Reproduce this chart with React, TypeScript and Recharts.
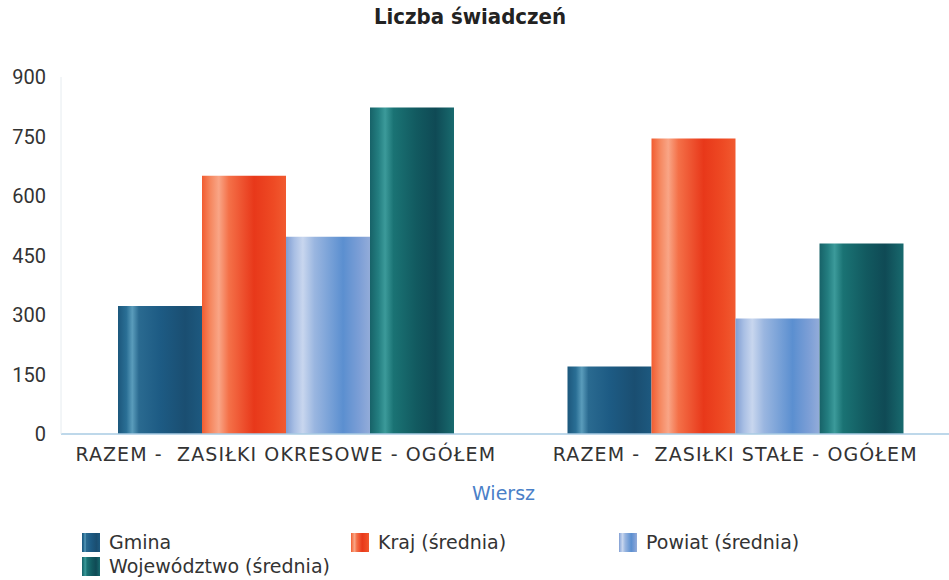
import { BarChart, Bar, XAxis, YAxis } from 'recharts'

const categories = ['RAZEM -\u00A0 ZASIŁKI OKRESOWE - OGÓŁEM', 'RAZEM -\u00A0 ZASIŁKI STAŁE - OGÓŁEM']
const gmina = [323, 170]
const kraj = [651, 745]
const powiat = [497, 291]
const wojewodztwo = [823, 480]
const yTicks = [0, 150, 300, 450, 600, 750, 900]

const seriesNames = ['Gmina', 'Kraj (średnia)', 'Powiat (średnia)', 'Województwo (średnia)']

const rows = categories.map((name, i) => ({
  name,
  gmina: gmina[i],
  kraj: kraj[i],
  powiat: powiat[i],
  wojewodztwo: wojewodztwo[i],
}))

// cylinder-ish shading, left to right
const gradients: Record<string, [number, string][]> = {
  gmina: [[0, '#1c577c'], [0.1, '#2a6f95'], [0.17, '#5a9cbb'], [0.25, '#2a6a90'], [0.5, '#1d5b84'], [0.8, '#1a4e71'], [1, '#1d597f']],
  kraj: [[0, '#f25c30'], [0.1, '#f5875f'], [0.2, '#f9a586'], [0.32, '#f47048'], [0.62, '#e8381a'], [0.85, '#ee4a24'], [1, '#f15a30']],
  powiat: [[0, '#7f9dd2'], [0.1, '#a9bfe4'], [0.2, '#c8d6ee'], [0.34, '#9ab6e0'], [0.68, '#5b8fd0'], [0.88, '#7d9fd6'], [1, '#93acd9']],
  wojewodztwo: [[0, '#176268'], [0.1, '#237e80'], [0.18, '#3c9a9a'], [0.28, '#1a7374'], [0.55, '#125a60'], [0.78, '#0f4a55'], [1, '#186a6e']],
}

const keys = ['gmina', 'kraj', 'powiat', 'wojewodztwo']

function cssGradient(key: string) {
  return 'linear-gradient(to right, ' + gradients[key].map(([o, c]) => `${c} ${o * 100}%`).join(', ') + ')'
}

const legendPos = [
  { left: 82, top: 533 },
  { left: 351, top: 533 },
  { left: 619, top: 533 },
  { left: 82, top: 557 },
]

export default function App() {
  return (
    <div style={{ position: 'absolute', left: 0, top: 0, width: 949, height: 580, overflow: 'hidden', background: '#fff' }}>
      <div
        style={{
          position: 'absolute',
          top: 4,
          left: 0,
          width: 940,
          textAlign: 'center',
          fontFamily: '"DejaVu Sans Condensed", "DejaVu Sans", sans-serif',
          fontWeight: 'bold',
          fontSize: 22,
          color: '#222',
        }}
      >
        Liczba świadczeń
      </div>
      <BarChart width={970} height={580} data={rows} margin={{ top: 77, right: 10, left: 0, bottom: 116 }} barGap={0} barSize={84}>
        <defs>
          {keys.map((k) => (
            <linearGradient key={k} id={'grad-' + k} x1="0" y1="0" x2="1" y2="0">
              {gradients[k].map(([o, c]) => (
                <stop key={o} offset={o} stopColor={c} />
              ))}
            </linearGradient>
          ))}
        </defs>
        <XAxis
          dataKey="name"
          height={30}
          tickLine={false}
          tickSize={0}
          tickMargin={14}
          axisLine={{ stroke: '#a9cbe3', strokeWidth: 1.5 }}
          tick={{ fill: '#333', fontSize: 19, fontFamily: '"DejaVu Sans", sans-serif', letterSpacing: 1.1 }}
        />
        <YAxis
          width={61}
          domain={[0, 900]}
          ticks={yTicks}
          interval={0}
          tickLine={false}
          tickSize={0}
          tickMargin={15}
          axisLine={{ stroke: '#e6ecf0' }}
          tick={{ fill: '#333', fontSize: 20, fontFamily: 'Roboto, sans-serif' }}
        />
        {keys.map((k, i) => (
          <Bar key={k} dataKey={k} name={seriesNames[i]} fill={`url(#grad-${k})`} isAnimationActive={false} />
        ))}
      </BarChart>
      <div
        style={{
          position: 'absolute',
          top: 482,
          left: 472,
          fontFamily: '"DejaVu Sans", sans-serif',
          fontSize: 19,
          color: '#4a80c8',
        }}
      >
        Wiersz
      </div>
      {keys.map((k, i) => (
        <div
          key={k}
          style={{
            position: 'absolute',
            left: legendPos[i].left,
            top: legendPos[i].top,
            display: 'flex',
            alignItems: 'center',
            fontFamily: '"DejaVu Sans", sans-serif',
            fontSize: 19,
            color: '#333',
            lineHeight: '19px',
          }}
        >
          <span style={{ display: 'inline-block', width: 18, height: 19, background: cssGradient(k), marginRight: 9 }} />
          {seriesNames[i]}
        </div>
      ))}
    </div>
  )
}
